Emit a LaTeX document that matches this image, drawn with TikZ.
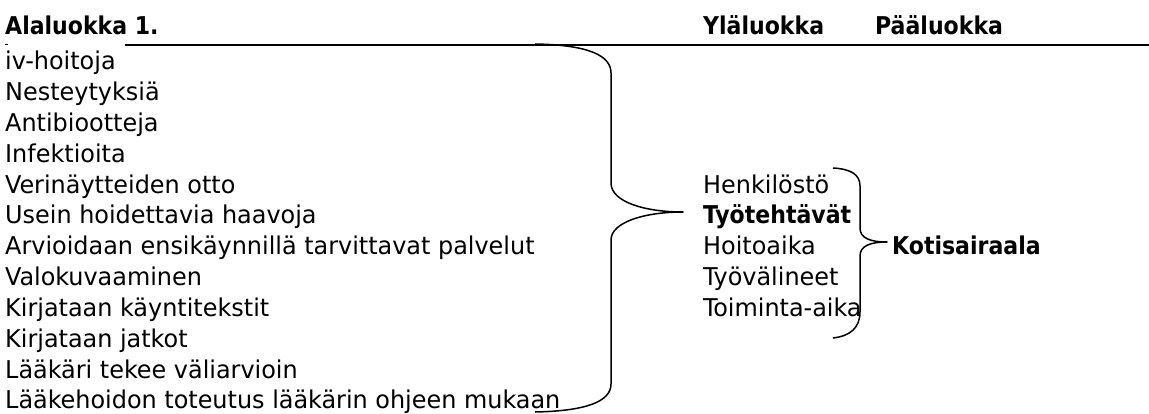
\documentclass[tikz,border=0pt]{standalone}
\usepackage{fontspec}
\setmainfont{DejaVu Sans Condensed}
\newfontfamily\regfont{DejaVu Sans Condensed}[FakeStretch=1.085]
\begin{document}
\begin{tikzpicture}[x=1pt,y=-1pt,
  txt/.style={anchor=base west,inner sep=0pt,font=\regfont\fontsize{24.5}{29}\selectfont},
  hdr/.style={anchor=base west,inner sep=0pt,font=\fontsize{24.5}{29}\selectfont\bfseries},
  brace/.style={line width=1.5pt,line join=round},
  rule/.style={line width=2pt}]
\useasboundingbox (0,0) rectangle (1149,414);
% headers
\node[hdr] (h1) at (5,35) {Alaluokka 1.};
\node[hdr] (h2) at (703,35) {Yläluokka};
\node[hdr] (h3) at (875,35) {Pääluokka};
\coordinate (r1) at (125,45);
\coordinate (r2) at (1149,45);
\draw[rule] (r1) -- (r2);
\coordinate (t1) at (5,44.5);
\coordinate (t2) at (8,44.5);
\draw[line width=1.5pt] (t1) -- (t2);
% left column
\foreach \i/\t in {1/iv-hoitoja,2/Nesteytyksiä,3/Antibiootteja,4/Infektioita,5/Verinäytteiden otto,6/Usein hoidettavia haavoja,7/Arvioidaan ensikäynnillä tarvittavat palvelut,8/Valokuvaaminen,9/Kirjataan käyntitekstit,10/Kirjataan jatkot,11/Lääkäri tekee väliarvioin,12/Lääkehoidon toteutus lääkärin ohjeen mukaan}
  \node[txt] (a\i) at (5,{70+30.8*(\i-1)}) {\t};
% middle column
\node[txt] (b1) at (703,{70+30.8*4}) {Henkilöstö};
\node[hdr] (b2) at (703,{70+30.8*5}) {Työtehtävät};
\node[txt] (b3) at (703,{70+30.8*6}) {Hoitoaika};
\node[txt] (b4) at (703,{70+30.8*7}) {Työvälineet};
\node[txt] (b5) at (703,{70+30.8*8}) {Toiminta-aika};
% main class
\node[hdr] (k) at (892,{70+30.8*6}) {Kotisairaala};
% big brace
\coordinate (B1) at (535,44);
\coordinate (Btip) at (683,212);
\coordinate (B2) at (535,412);
\draw[brace] (B1) .. controls (590,45) and (611,56) .. (611,73)
  -- (611,183) .. controls (611,202) and (645,212) .. (Btip)
  .. controls (645,212) and (611,222) .. (611,240)
  -- (611,384) .. controls (611,402) and (585,411) .. (B2);
% small brace
\coordinate (S1) at (833,168);
\coordinate (Stip) at (887,242);
\coordinate (S2) at (833,338);
\draw[brace] (S1) .. controls (850,169) and (860,174) .. (860,186)
  -- (860,228) .. controls (860,238) and (870,242) .. (Stip)
  .. controls (870,242) and (860,246) .. (860,256)
  -- (860,312) .. controls (860,328) and (850,336) .. (S2);
\end{tikzpicture}
\end{document}
